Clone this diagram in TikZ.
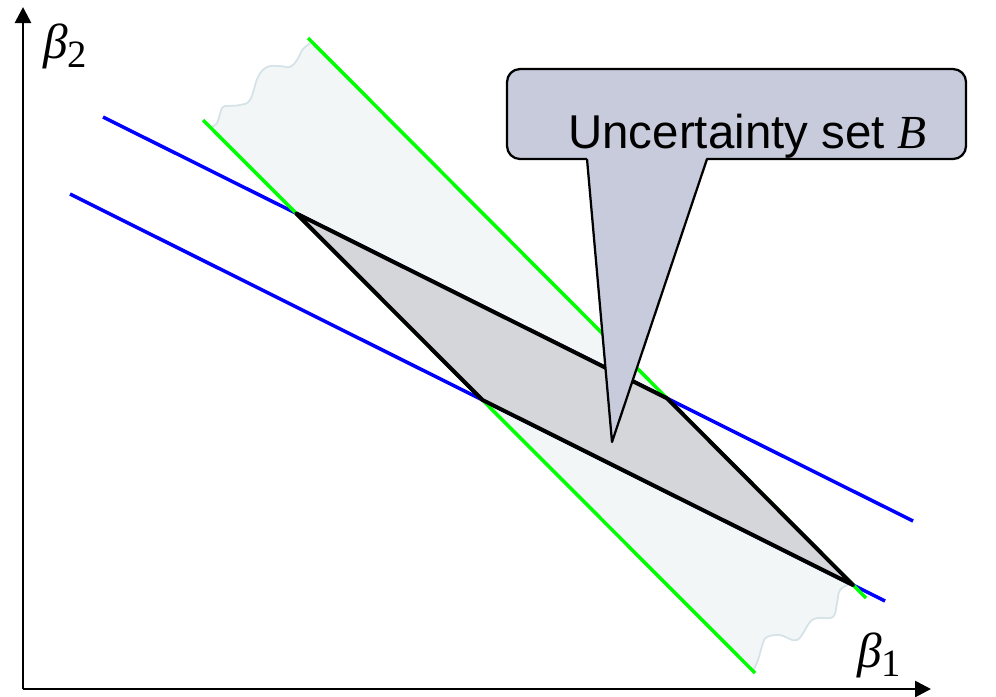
\documentclass[tikz,border=0pt]{standalone}
\usepackage{fontspec}
\setmainfont{Liberation Sans}
\newfontfamily\timesfont{Liberation Serif}
\usetikzlibrary{arrows.meta}
\definecolor{bandfill}{HTML}{F3F6F7}
\definecolor{bandedge}{HTML}{D5E2E8}
\definecolor{setfill}{HTML}{D4D6DA}
\definecolor{calloutfill}{HTML}{C8CBDB}
\definecolor{pureblue}{RGB}{0,0,255}
\definecolor{puregreen}{RGB}{0,255,0}
\begin{document}
\begin{tikzpicture}[x=0.2mm, y=-0.2mm, line join=round,
    bline/.style={pureblue, line width=0.7mm},
    gline/.style={puregreen, line width=0.7mm},
    axis/.style={line width=0.55mm, -{Triangle[length=3.2mm,width=3.2mm]}},
    wavy/.style={bandedge, line width=0.35mm},
    betalabel/.style={anchor=base west, inner sep=0pt, font=\fontsize{28}{30}\selectfont\timesfont\itshape}]
  \useasboundingbox (0,0) rectangle (996,696);
  % lines
  \coordinate (b1s) at (103,117); \coordinate (b1e) at (913,521);
  \coordinate (b2s) at (70,194);  \coordinate (b2e) at (885,601);
  \coordinate (g1s) at (308,38);  \coordinate (g1e) at (866,598);
  \coordinate (g2s) at (203,120); \coordinate (g2e) at (755,673);
  \coordinate (tl) at (intersection of b1s--b1e and g2s--g2e);
  \coordinate (tr) at (intersection of b1s--b1e and g1s--g1e);
  \coordinate (bl) at (intersection of b2s--b2e and g2s--g2e);
  \coordinate (br) at (intersection of b2s--b2e and g1s--g1e);
  % band
  \fill[bandfill] plot[smooth, tension=0.6] coordinates {(210,127) (217,123) (222,108) (228,106) (240,105) (250,100) (258,77) (267,67) (280,66) (290,67) (297,60) (303,49) (312,42)}
    -- plot[smooth, tension=0.6] coordinates {(851,583) (840,590) (837,603) (833,617) (818,618) (810,622) (797,640) (780,635) (767,637) (763,643) (758,660) (753,671)} -- cycle;
  \draw[wavy] plot[smooth, tension=0.6] coordinates {(210,127) (217,123) (222,108) (228,106) (240,105) (250,100) (258,77) (267,67) (280,66) (290,67) (297,60) (303,49) (312,42)};
  \draw[wavy] plot[smooth, tension=0.6] coordinates {(851,583) (840,590) (837,603) (833,617) (818,618) (810,622) (797,640) (780,635) (767,637) (763,643) (758,660) (753,671)};
  \foreach \a/\b in {b1s/b1e, b2s/b2e}{
    \draw[bline] (\a) -- (\b);
  }
  \foreach \a/\b in {g1s/g1e, g2s/g2e}{
    \draw[gline] (\a) -- (\b);
  }
  % uncertainty set
  \draw[fill=setfill, line width=0.8mm] (tl) -- (tr) -- (br) -- (bl) -- cycle;
  % callout
  \coordinate (pl) at (587,159); \coordinate (pr) at (707,159); \coordinate (tip) at (612,442);
  \draw[fill=calloutfill, line width=0.45mm, rounded corners=2.6mm] (507,69) rectangle (966,159);
  \fill[calloutfill] (587,156) -- (tip) -- (707,156) -- cycle;
  \draw[line width=0.45mm] (pl) -- (tip) -- (pr);
  \node[anchor=base west, inner sep=0pt, font=\fontsize{27}{30}\selectfont] (callout) at (568,148) {Uncertainty set {\timesfont\itshape B}};
  % axes
  \coordinate (o) at (23,689);
  \coordinate (xend) at (931,689);
  \coordinate (yend) at (23,7);
  \draw[axis] (o) -- (xend);
  \draw[axis] (o) -- (yend);
  \node[betalabel] (beta1) at (857,667) {β\raisebox{-0.2em}{\upshape\fontsize{22}{22}\selectfont 1}};
  \node[betalabel] (beta2) at (43,58) {β\raisebox{-0.2em}{\upshape\fontsize{22}{22}\selectfont 2}};
\end{tikzpicture}
\end{document}
